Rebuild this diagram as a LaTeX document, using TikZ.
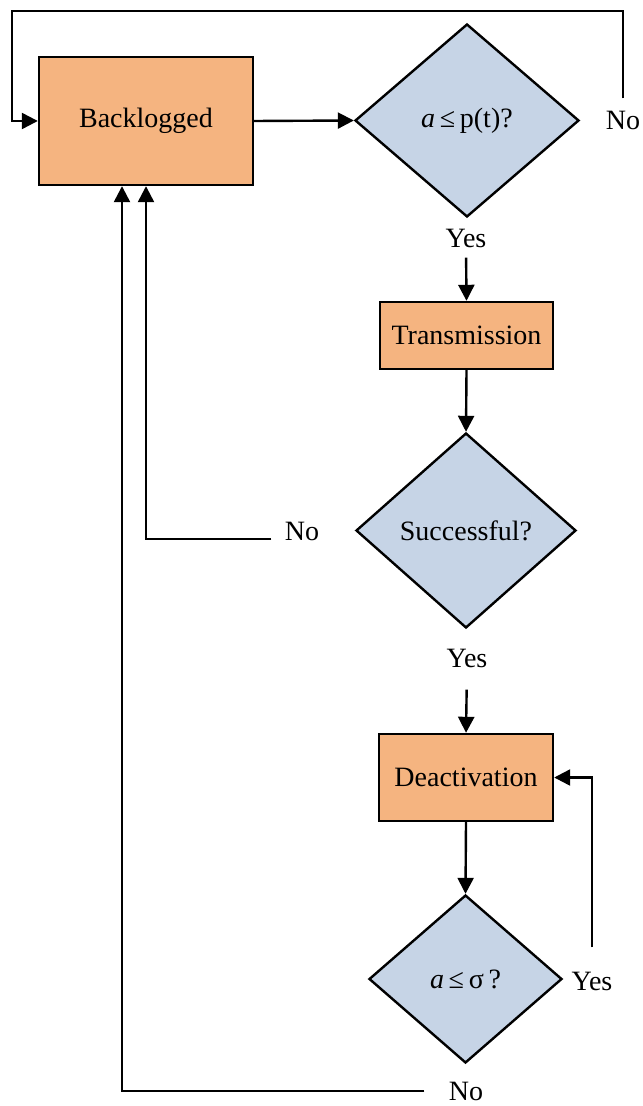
\documentclass[tikz,border=0pt]{standalone}
\usepackage{fontspec}
\setmainfont{Liberation Serif}
\usetikzlibrary{shapes.geometric,arrows.meta}
\definecolor{boxorange}{HTML}{F5B480}
\definecolor{diablue}{HTML}{C6D4E6}
\tikzset{
  procbox/.style={draw=black, line width=1.2pt, fill=boxorange, rectangle, inner sep=0pt, font=\fontsize{14}{16}\selectfont},
  decbox/.style={draw=black, line width=1.2pt, fill=diablue, diamond, inner sep=0pt, font=\fontsize{14}{16}\selectfont},
  lbl/.style={inner sep=0pt, font=\fontsize{14}{16}\selectfont},
  conn/.style={line width=1.2pt, -{Triangle[length=8pt,width=8pt]}},
  plainconn/.style={line width=1.2pt}
}
\begin{document}
\begin{tikzpicture}[x=0.5pt,y=-0.5pt]
\useasboundingbox (0,0) rectangle (642,1106);
% nodes
\node[procbox, minimum width=107pt, minimum height=64pt] (back) at (146,121) {Backlogged};
\node[decbox, minimum width=112pt, minimum height=96.5pt] (d1) at (467,120.5) {\textit{a}\,≤\,p(t)?};
\node[procbox, minimum width=86.5pt, minimum height=33.5pt] (tr) at (466.5,335.5) {Transmission};
\node[decbox, minimum width=110pt, minimum height=97.5pt] (d2) at (466,530.5) {Successful?};
\node[procbox, minimum width=87pt, minimum height=43.5pt] (de) at (466,777.5) {Deactivation};
\node[decbox, minimum width=96.5pt, minimum height=84pt] (d3) at (465.5,979) {\textit{a}\,≤\,σ\,?};
% labels
\node[lbl] (no1) at (623,120) {No};
\node[lbl] (yes1) at (466,238) {Yes};
\node[lbl] (no2) at (302,531) {No};
\node[lbl] (yes2) at (467,658) {Yes};
\node[lbl] (yes3) at (592,981) {Yes};
\node[lbl] (no3) at (466,1091) {No};
% connectors
\draw[conn] (back.east) -- (d1.west);
\draw[conn] ([yshift=6pt]no1.north) |- (12,11) |- (back.west);
\draw[conn, shorten <=5pt] (yes1.south) -- (tr.north);
\draw[conn] (tr.south) -- (d2.north);
\draw[conn] ([xshift=-6.5pt,yshift=-4pt]no2.west) -| (back.south);
\draw[conn, shorten <=11pt] (yes2.south) -- (de.north);
\draw[conn] (de.south) -- (d3.north);
\draw[conn] ([yshift=12pt]yes3.north) |- (de.east);
\draw[conn] ([xshift=-12pt]no3.west) -| ([xshift=-12pt]back.south);
\end{tikzpicture}
\end{document}
